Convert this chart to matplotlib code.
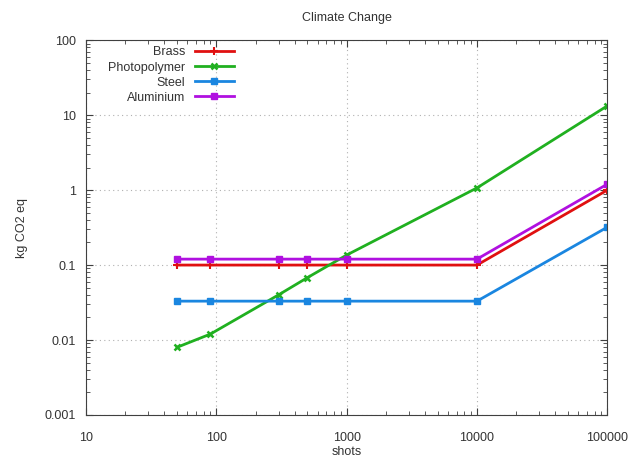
import numpy as np
import matplotlib
matplotlib.use('Agg')
import matplotlib.pyplot as plt
from matplotlib.ticker import LogLocator, FixedLocator, NullFormatter

# data
shots = [50, 90, 300, 500, 1000, 10000, 100000]
brass = [0.1, 0.1, 0.1, 0.1, 0.1, 0.1, 1.0]
photopolymer = [0.008, 0.012, 0.04, 0.068, 0.136, 1.07, 13.3]
steel = [0.033, 0.033, 0.033, 0.033, 0.033, 0.033, 0.32]
aluminium = [0.12, 0.12, 0.12, 0.12, 0.12, 0.12, 1.2]

x_ticks = [10, 100, 1000, 10000, 100000]
y_ticks = [0.001, 0.01, 0.1, 1, 10, 100]

plt.rcParams['font.family'] = ['Liberation Sans', 'DejaVu Sans']
plt.rcParams['font.size'] = 9

fig = plt.figure(figsize=(6.28, 4.57), dpi=100)
ax = fig.add_axes([0.137, 0.092, 0.830, 0.820])

ax.plot(shots, brass, color='#e01010', lw=2, marker='+', ms=6, mew=1.5, label='Brass')
ax.plot(shots, photopolymer, color='#20b020', lw=2, marker='x', ms=5, mew=1.8, label='Photopolymer')
ax.plot(shots, steel, color='#1a86e0', lw=2, marker='s', ms=5, label='Steel')
ax.plot(shots, aluminium, color='#b010e0', lw=2, marker='s', ms=5, label='Aluminium')

ax.set_xscale('log')
ax.set_yscale('log')
ax.set_xlim(10, 100000)
ax.set_ylim(0.001, 100)

ax.xaxis.set_major_locator(FixedLocator(x_ticks))
ax.yaxis.set_major_locator(FixedLocator(y_ticks))
ax.set_xticklabels([str(v) for v in x_ticks])
ax.set_yticklabels(['0.001', '0.01', '0.1', '1', '10', '100'])
ax.xaxis.set_minor_locator(LogLocator(base=10, subs=np.arange(2, 10)))
ax.yaxis.set_minor_locator(LogLocator(base=10, subs=np.arange(2, 10)))
ax.xaxis.set_minor_formatter(NullFormatter())
ax.yaxis.set_minor_formatter(NullFormatter())

ax.tick_params(which='both', direction='in', top=True, right=True, colors='#404040', labelcolor='#333333')
ax.tick_params(axis='x', which='major', length=5, pad=12)
ax.tick_params(axis='y', which='major', length=5, pad=7)
ax.tick_params(which='minor', length=3)
for s in ax.spines.values():
    s.set_color('#404040')

ax.grid(True, which='major', color='#b0b0b0', ls=(0, (1, 3)), lw=0.8)

ax.set_xlabel('shots', color='#333333', labelpad=1.5)
ax.set_ylabel('kg CO2 eq', color='#333333', labelpad=12)
ax.set_title('Climate Change', fontsize=9, color='#333333', pad=14)

leg = ax.legend(loc='upper left', markerfirst=False, frameon=False, handlelength=3.1,
                borderaxespad=0.1, labelspacing=0.25, handletextpad=0.8,
                bbox_to_anchor=(0.03, 1.0), fontsize=9)
for t in leg.get_texts():
    t.set_ha('right')
    t.set_color('#333333')
leg._legend_box.align = 'right'

fig.savefig('out.png', dpi=100)
